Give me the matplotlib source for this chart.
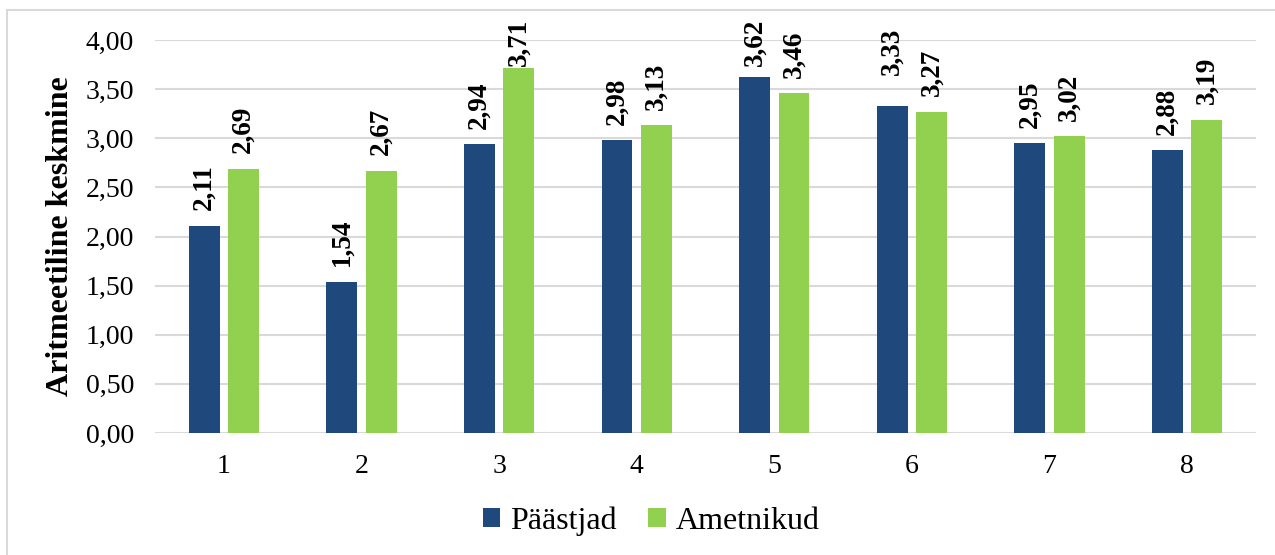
import numpy as np
import matplotlib.pyplot as plt
from matplotlib.patches import Rectangle

plt.rcParams['font.family'] = ['Liberation Serif', 'DejaVu Serif']

categories = ['1', '2', '3', '4', '5', '6', '7', '8']
paastjad = [2.11, 1.54, 2.94, 2.98, 3.62, 3.33, 2.95, 2.88]
ametnikud = [2.69, 2.67, 3.71, 3.13, 3.46, 3.27, 3.02, 3.19]
yticks = [0.0, 0.5, 1.0, 1.5, 2.0, 2.5, 3.0, 3.5, 4.0]

blue = '#1F497D'
green = '#92D050'

fig = plt.figure(figsize=(12.75, 5.55), dpi=100)
ax = fig.add_axes([155/1275, 1-433/555, 1101/1275, 393/555])

x = np.arange(len(categories))
w = 0.225
off = 0.143
b1 = ax.bar(x - off, paastjad, w, color=blue, label='Päästjad', zorder=3)
b2 = ax.bar(x + off, ametnikud, w, color=green, label='Ametnikud', zorder=3)

def fmt(v):
    return f'{v:.2f}'.replace('.', ',')

labels = []
for bars, vals in ((b1, paastjad), (b2, ametnikud)):
    for rect, v in zip(bars, vals):
        pad = 11
        if v == 3.33:
            pad = 22  # this one sits higher
        labels.append(ax.annotate(fmt(v), (rect.get_x() + rect.get_width()/2, v),
                                  xytext=(0, pad), textcoords='offset points',
                                  rotation=90, ha='center', va='bottom',
                                  fontsize=19.5, fontweight='bold',
                                  annotation_clip=False))

ax.set_xlim(-0.5, len(categories) - 0.5)
ax.set_ylim(0, 4.0)
ax.set_yticks(yticks)
ax.set_yticklabels([fmt(t) for t in yticks], fontsize=20)
ax.set_xticks(x)
ax.set_xticklabels(categories, fontsize=20)
ax.tick_params(length=0)
ax.tick_params(axis='y', pad=15)
ax.tick_params(axis='x', pad=15)
ax.yaxis.grid(True, color='#D9D9D9', linewidth=1.5, zorder=0)
for s in ax.spines.values():
    s.set_visible(False)
ax.set_ylabel('Aritmeetiline keskmine', fontsize=23, fontweight='bold', labelpad=8)

fig.legend(loc='center', bbox_to_anchor=(651/1275, 1-521/555), ncol=2,
           frameon=False, fontsize=23, handlelength=0.55, handleheight=0.55,
           handletextpad=0.3, columnspacing=1.0)

# outer frame
fig.patches.append(Rectangle((7/1275, -0.05), 1.1, 1.05 - 10/555,
                             transform=fig.transFigure, fill=False,
                             edgecolor='#D9D9D9', linewidth=1.5))

# keep value labels inside the chart area
fig.canvas.draw()
top = fig.bbox.height - 19
for a in labels:
    bb = a.get_window_extent()
    if bb.y1 > top:
        dx, dy = a.xyann
        a.xyann = (dx, dy - (bb.y1 - top) * 72 / fig.dpi)

fig.savefig('out.png', dpi=100)
